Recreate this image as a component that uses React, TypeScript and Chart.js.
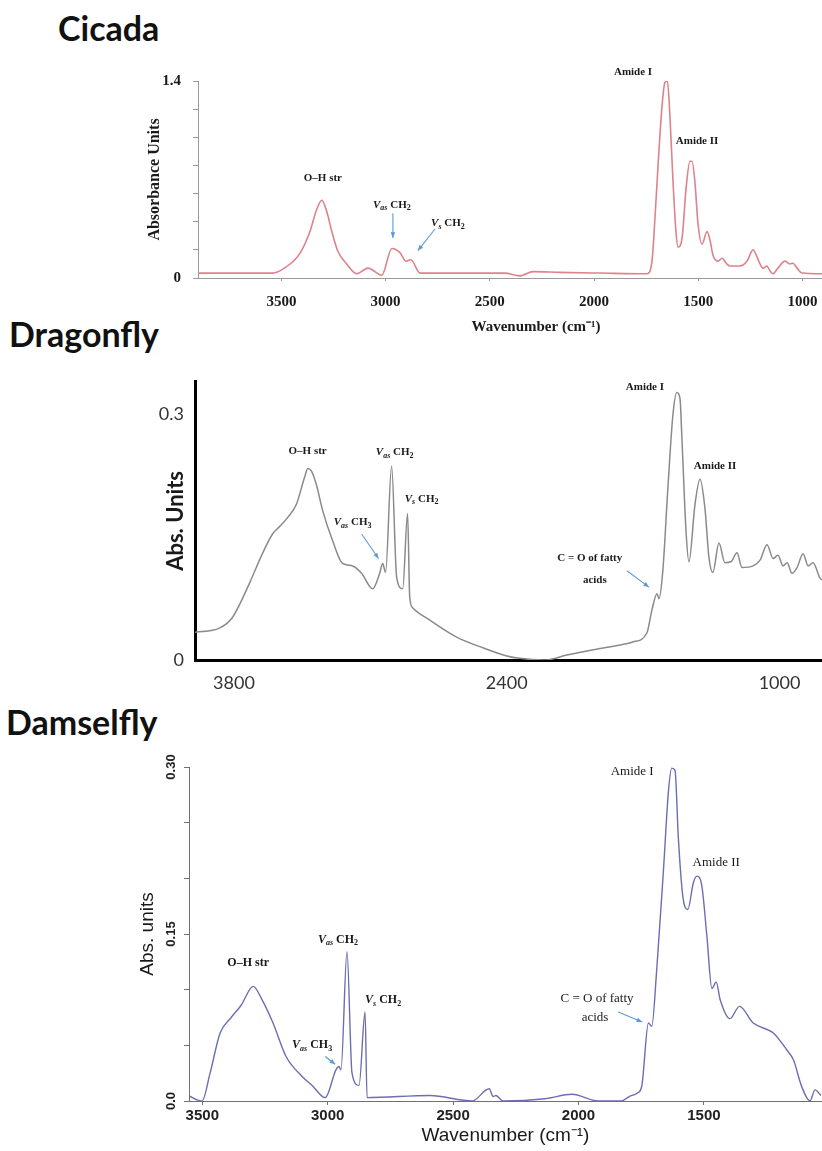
import React, { useEffect, useRef } from 'react';
import { Chart, registerables } from 'chart.js';

Chart.register(...registerables);

// ---------------- Cicada ----------------
const CICADA_WAVENUMBER = [3901, 3541, 3493, 3411, 3363, 3330, 3306, 3282, 3258, 3229, 3186, 3138, 3085, 3018, 2970, 2931, 2903, 2879, 2835, 2428, 2356, 2293, 2164, 1972, 1746, 1722, 1708, 1693, 1674, 1660, 1648, 1636, 1621, 1607, 1597, 1578, 1559, 1540, 1530, 1516, 1501, 1482, 1458, 1444, 1429, 1405, 1386, 1362, 1348, 1300, 1266, 1237, 1218, 1204, 1190, 1170, 1161, 1142, 1118, 1084, 1060, 1046, 1026, 1002, 916, 906];
const CICADA_ABSORBANCE = [0.035, 0.035, 0.063, 0.175, 0.33, 0.49, 0.553, 0.47, 0.33, 0.19, 0.098, 0.03, 0.07, 0.02, 0.21, 0.18, 0.12, 0.13, 0.035, 0.035, 0.015, 0.045, 0.04, 0.035, 0.03, 0.12, 0.42, 0.8, 1.22, 1.39, 1.4, 1.15, 0.68, 0.33, 0.22, 0.28, 0.63, 0.83, 0.83, 0.68, 0.38, 0.24, 0.33, 0.27, 0.16, 0.12, 0.14, 0.098, 0.085, 0.085, 0.12, 0.2, 0.15, 0.1, 0.07, 0.085, 0.063, 0.03, 0.07, 0.12, 0.1, 0.105, 0.07, 0.035, 0.03, 0.03];
const CICADA_X_TICKS = [3500, 3000, 2500, 2000, 1500, 1000];
const CICADA_X_LABELS = ['3500', '3000', '2500', '2000', '1500', '1000'];
const CICADA_Y_TICKS = [0, 0.2, 0.4, 0.6, 0.8, 1.0, 1.2, 1.4];
const CICADA_Y_LABELS = ['0', '', '', '', '', '', '', '1.4'];

// ---------------- Dragonfly ----------------
const DRAGONFLY_WAVENUMBER = [4000, 3875, 3808, 3720, 3654, 3602, 3566, 3525, 3480, 3438, 3421, 3403, 3378, 3344, 3294, 3243, 3191, 3145, 3088, 3052, 3037, 3022, 2991, 2965, 2934, 2909, 2898, 2883, 2796, 2657, 2523, 2400, 2333, 2205, 2092, 1922, 1753, 1681, 1655, 1629, 1619, 1599, 1573, 1547, 1527, 1511, 1501, 1480, 1465, 1434, 1408, 1383, 1362, 1342, 1311, 1280, 1250, 1218, 1193, 1136, 1100, 1064, 1033, 1008, 982, 961, 936, 910, 879, 853, 828, 792, 782];
const DRAGONFLY_ABSORBANCE = [0.034, 0.039, 0.052, 0.094, 0.13, 0.154, 0.163, 0.174, 0.19, 0.223, 0.234, 0.231, 0.215, 0.182, 0.146, 0.118, 0.115, 0.106, 0.087, 0.106, 0.118, 0.107, 0.237, 0.101, 0.087, 0.179, 0.077, 0.064, 0.049, 0.028, 0.015, 0.005, 0.002, 0.0, 0.006, 0.014, 0.022, 0.033, 0.061, 0.081, 0.075, 0.109, 0.21, 0.3, 0.327, 0.32, 0.271, 0.158, 0.12, 0.19, 0.221, 0.186, 0.125, 0.107, 0.143, 0.119, 0.12, 0.131, 0.113, 0.115, 0.122, 0.141, 0.124, 0.128, 0.115, 0.119, 0.106, 0.113, 0.13, 0.115, 0.119, 0.1, 0.098];
const DRAGONFLY_X_TICKS = [3800, 2400, 1000];
const DRAGONFLY_X_LABELS = ['3800', '2400', '1000'];
const DRAGONFLY_Y_TICKS = [0, 0.3];
const DRAGONFLY_Y_LABELS = ['0', '0.3'];

// ---------------- Damselfly ----------------
const DAMSELFLY_WAVENUMBER = [3553, 3501, 3469, 3429, 3385, 3345, 3297, 3262, 3218, 3166, 3102, 3062, 3010, 2967, 2955, 2947, 2923, 2903, 2875, 2851, 2843, 2592, 2424, 2356, 2340, 2329, 2301, 2133, 2026, 1922, 1830, 1798, 1766, 1748, 1721, 1708, 1688, 1661, 1641, 1628, 1615, 1602, 1584, 1564, 1542, 1528, 1508, 1488, 1468, 1451, 1435, 1396, 1358, 1303, 1223, 1170, 1143, 1110, 1077, 1057, 1033];
const DAMSELFLY_ABSORBANCE = [0.0045, 0, 0.025, 0.061, 0.075, 0.086, 0.103, 0.091, 0.07, 0.04, 0.022, 0.014, 0.003, 0.028, 0.031, 0.028, 0.134, 0.025, 0.014, 0.08, 0.003, 0.005, 0, 0.011, 0.004, 0.005, 0, 0.002, 0.006, 0, 0, 0.004, 0.007, 0.013, 0.07, 0.067, 0.118, 0.208, 0.279, 0.299, 0.297, 0.237, 0.184, 0.172, 0.196, 0.202, 0.193, 0.148, 0.101, 0.107, 0.091, 0.074, 0.085, 0.07, 0.061, 0.046, 0.037, 0.013, 0, 0.01, 0.005];
const DAMSELFLY_X_TICKS = [3500, 3000, 2500, 2000, 1500];
const DAMSELFLY_X_LABELS = ['3500', '3000', '2500', '2000', '1500'];
const DAMSELFLY_Y_TICKS = [0, 0.05, 0.1, 0.15, 0.2, 0.25, 0.3];
const DAMSELFLY_Y_LABELS = ['0.0', '', '', '0.15', '', '', '0.30'];

// ---------------- Peak annotations (data coordinates) ----------------
type Seg = { t: string; sub?: boolean; it?: boolean };
type Note = { segs: Seg[]; wn: number; ab: number; light?: boolean };
type Arrow = { from: [number, number]; to: [number, number] };

const plain = (t: string): Seg[] => [{ t }];
const vib = (mode: string, n: string): Seg[] => [
  { t: 'V', it: true },
  { t: mode, sub: true, it: true },
  { t: ' CH' },
  { t: n, sub: true },
];

const CICADA_NOTES: Note[] = [
  { segs: plain('O–H str'), wn: 3301, ab: 0.71 },
  { segs: vib('as', '2'), wn: 2970, ab: 0.52 },
  { segs: vib('s', '2'), wn: 2701, ab: 0.39 },
  { segs: plain('Amide I'), wn: 1813, ab: 1.46 },
  { segs: plain('Amide II'), wn: 1506, ab: 0.975 },
];
const CICADA_ARROWS: Arrow[] = [
  { from: [2965, 0.46], to: [2965, 0.285] },
  { from: [2763, 0.348], to: [2845, 0.195] },
];

const DRAGONFLY_NOTES: Note[] = [
  { segs: plain('O–H str'), wn: 3422, ab: 0.255 },
  { segs: vib('as', '2'), wn: 2975, ab: 0.254 },
  { segs: vib('s', '2'), wn: 2837, ab: 0.197 },
  { segs: vib('as', '3'), wn: 3191, ab: 0.168 },
  { segs: plain('Amide I'), wn: 1691, ab: 0.334 },
  { segs: plain('Amide II'), wn: 1331, ab: 0.237 },
  { segs: plain('C = O of fatty'), wn: 1974, ab: 0.124 },
  { segs: plain('acids'), wn: 1948, ab: 0.098 },
];
const DRAGONFLY_ARROWS: Arrow[] = [
  { from: [3145, 0.154], to: [3058, 0.124] },
  { from: [1783, 0.109], to: [1670, 0.089] },
];

const DAMSELFLY_NOTES: Note[] = [
  { segs: plain('O–H str'), wn: 3317, ab: 0.124 },
  { segs: vib('as', '2'), wn: 2959, ab: 0.145 },
  { segs: vib('s', '2'), wn: 2779, ab: 0.091 },
  { segs: vib('as', '3'), wn: 3062, ab: 0.05 },
  { segs: plain('Amide I'), wn: 1786, ab: 0.296, light: true },
  { segs: plain('Amide II'), wn: 1451, ab: 0.214, light: true },
  { segs: plain('C = O of fatty'), wn: 1926, ab: 0.092, light: true },
  { segs: plain('acids'), wn: 1934, ab: 0.075, light: true },
];
const DAMSELFLY_ARROWS: Arrow[] = [
  { from: [3010, 0.04], to: [2970, 0.033] },
  { from: [1842, 0.08], to: [1746, 0.071] },
];

// ---------------- fonts & helpers ----------------
const SERIF = "'Liberation Serif', 'Times New Roman', serif";
const ARIAL = "'Liberation Sans', Arial, sans-serif";
const CALIBRI = "Lato, 'Noto Sans', sans-serif";

type NoteStyle = { size: number; lightSize: number; color: string; arrowColor: string };

function notesPlugin(notes: Note[], arrows: Arrow[], style: NoteStyle) {
  return {
    id: 'peakNotes',
    afterDraw(chart: any) {
      const { ctx, scales } = chart;
      const xs = scales.x;
      const ys = scales.y;
      ctx.save();
      ctx.strokeStyle = style.arrowColor;
      ctx.fillStyle = style.arrowColor;
      ctx.lineWidth = 1.1;
      for (const a of arrows) {
        const x1 = xs.getPixelForValue(a.from[0]);
        const y1 = ys.getPixelForValue(a.from[1]);
        const x2 = xs.getPixelForValue(a.to[0]);
        const y2 = ys.getPixelForValue(a.to[1]);
        ctx.beginPath();
        ctx.moveTo(x1, y1);
        ctx.lineTo(x2, y2);
        ctx.stroke();
        const ang = Math.atan2(y2 - y1, x2 - x1);
        const h = 6;
        ctx.beginPath();
        ctx.moveTo(x2, y2);
        ctx.lineTo(x2 - h * Math.cos(ang - 0.4), y2 - h * Math.sin(ang - 0.4));
        ctx.lineTo(x2 - h * Math.cos(ang + 0.4), y2 - h * Math.sin(ang + 0.4));
        ctx.closePath();
        ctx.fill();
      }
      ctx.fillStyle = style.color;
      ctx.textBaseline = 'middle';
      ctx.textAlign = 'left';
      for (const n of notes) {
        const size = n.light ? style.lightSize : style.size;
        const weight = n.light ? 'normal' : 'bold';
        const fontFor = (s: Seg) =>
          `${s.it ? 'italic ' : ''}${weight} ${s.sub ? Math.round(size * 0.7) : size}px ${SERIF}`;
        const widths = n.segs.map((s) => {
          ctx.font = fontFor(s);
          return ctx.measureText(s.t).width;
        });
        const total = widths.reduce((p, c) => p + c, 0);
        let x = xs.getPixelForValue(n.wn) - total / 2;
        const y = ys.getPixelForValue(n.ab);
        n.segs.forEach((s, i) => {
          ctx.font = fontFor(s);
          ctx.fillText(s.t, x, y + (s.sub ? size * 0.32 : 0));
          x += widths[i];
        });
      }
      ctx.restore();
    },
  };
}

const fixedTicks = (values: number[]) => (scale: any) => {
  scale.ticks = values.map((v) => ({ value: v }));
};
const labelsFrom = (labels: string[]) => (_v: any, i: number) => labels[i];
const points = (xs: number[], ys: number[]) => xs.map((x, i) => ({ x, y: ys[i] }));

// ---------------- configs ----------------
function cicadaConfig(): any {
  const tickFont = { family: SERIF, size: 15, weight: 'bold' };
  return {
    type: 'line',
    data: {
      datasets: [
        {
          data: points(CICADA_WAVENUMBER, CICADA_ABSORBANCE),
          borderColor: '#de828b',
          borderWidth: 1.6,
          pointRadius: 0,
          fill: false,
          cubicInterpolationMode: 'monotone',
        },
      ],
    },
    plugins: [notesPlugin(CICADA_NOTES, CICADA_ARROWS, { size: 11, lightSize: 11, color: '#1a1a1a', arrowColor: '#5b9bd5' })],
    options: {
      responsive: false,
      animation: false,
      events: [],
      layout: { padding: { top: 17, right: 0, bottom: 0, left: 0 } },
      plugins: { legend: { display: false }, tooltip: { enabled: false } },
      scales: {
        x: {
          type: 'linear',
          reverse: true,
          min: 657,
          max: 3900,
          afterBuildTicks: fixedTicks(CICADA_X_TICKS),
          afterFit: (s: any) => { s.height = 67; },
          ticks: { callback: labelsFrom(CICADA_X_LABELS), autoSkip: false, maxRotation: 0, padding: 12, color: '#1a1a1a', font: tickFont },
          grid: { drawOnChartArea: false, drawTicks: true, tickLength: 3, color: '#9a9a9a' },
          border: { display: true, color: '#9a9a9a', width: 1 },
          title: { display: true, text: 'Wavenumber (cm⁻¹)', color: '#1a1a1a', font: { family: SERIF, size: 15, weight: 'bold' }, padding: { top: 0, bottom: 9 } },
        },
        y: {
          type: 'linear',
          min: 0,
          max: 1.4,
          afterBuildTicks: fixedTicks(CICADA_Y_TICKS),
          afterFit: (s: any) => { s.width = 68; },
          ticks: { callback: labelsFrom(CICADA_Y_LABELS), autoSkip: false, padding: 12, color: '#1a1a1a', font: tickFont },
          grid: { drawOnChartArea: false, drawTicks: true, tickLength: 5, color: '#9a9a9a' },
          border: { display: true, color: '#9a9a9a', width: 1 },
          title: { display: true, text: 'Absorbance Units', color: '#1a1a1a', font: { family: SERIF, size: 16, weight: 'bold' }, padding: { top: 15, bottom: 0 } },
        },
      },
    },
  };
}

function dragonflyConfig(): any {
  const tickFont = { family: CALIBRI, size: 18, weight: 'normal' };
  return {
    type: 'line',
    data: {
      datasets: [
        {
          data: points(DRAGONFLY_WAVENUMBER, DRAGONFLY_ABSORBANCE),
          borderColor: '#8a8a8a',
          borderWidth: 1.5,
          pointRadius: 0,
          fill: false,
          cubicInterpolationMode: 'monotone',
        },
      ],
    },
    plugins: [notesPlugin(DRAGONFLY_NOTES, DRAGONFLY_ARROWS, { size: 11, lightSize: 11, color: '#1a1a1a', arrowColor: '#5b9bd5' })],
    options: {
      responsive: false,
      animation: false,
      events: [],
      layout: { padding: { top: 20, right: 0, bottom: 0, left: 0 } },
      plugins: { legend: { display: false }, tooltip: { enabled: false } },
      scales: {
        x: {
          type: 'linear',
          reverse: true,
          min: 782,
          max: 4000,
          afterBuildTicks: fixedTicks(DRAGONFLY_X_TICKS),
          afterFit: (s: any) => { s.height = 30; },
          ticks: { callback: labelsFrom(DRAGONFLY_X_LABELS), autoSkip: false, maxRotation: 0, padding: 12, color: '#333', font: tickFont },
          grid: { drawOnChartArea: false, drawTicks: false },
          border: { display: true, color: '#000', width: 3 },
        },
        y: {
          type: 'linear',
          min: 0,
          max: 0.34,
          afterBuildTicks: fixedTicks(DRAGONFLY_Y_TICKS),
          afterFit: (s: any) => { s.width = 55; },
          ticks: { callback: labelsFrom(DRAGONFLY_Y_LABELS), autoSkip: false, padding: 11, color: '#333', font: tickFont },
          grid: { drawOnChartArea: false, drawTicks: false },
          border: { display: true, color: '#000', width: 3 },
          title: { display: true, text: 'Abs. Units', color: '#1a1a1a', font: { family: CALIBRI, size: 22, weight: 'bold' }, padding: { top: 23, bottom: 0 } },
        },
      },
    },
  };
}

function damselflyConfig(): any {
  return {
    type: 'line',
    data: {
      datasets: [
        {
          data: points(DAMSELFLY_WAVENUMBER, DAMSELFLY_ABSORBANCE),
          borderColor: '#6d6db2',
          borderWidth: 1.4,
          pointRadius: 0,
          fill: false,
          cubicInterpolationMode: 'monotone',
        },
      ],
    },
    plugins: [notesPlugin(DAMSELFLY_NOTES, DAMSELFLY_ARROWS, { size: 12, lightSize: 13, color: '#1a1a1a', arrowColor: '#5b9bd5' })],
    options: {
      responsive: false,
      animation: false,
      events: [],
      layout: { padding: { top: 27, right: 0, bottom: 0, left: 0 } },
      plugins: { legend: { display: false }, tooltip: { enabled: false } },
      scales: {
        x: {
          type: 'linear',
          reverse: true,
          min: 1029,
          max: 3553,
          afterBuildTicks: fixedTicks(DAMSELFLY_X_TICKS),
          afterFit: (s: any) => { s.height = 50; },
          ticks: { callback: labelsFrom(DAMSELFLY_X_LABELS), autoSkip: false, maxRotation: 0, padding: 2, color: '#222', font: { family: ARIAL, size: 15, weight: 'bold' } },
          grid: { drawOnChartArea: false, drawTicks: true, tickLength: 4, color: '#707070' },
          border: { display: true, color: '#707070', width: 1 },
          title: { display: true, text: 'Wavenumber (cm⁻¹)', color: '#1a1a1a', font: { family: ARIAL, size: 19, weight: 'normal' }, padding: { top: 0, bottom: 4 } },
        },
        y: {
          type: 'linear',
          min: 0,
          max: 0.3,
          afterBuildTicks: fixedTicks(DAMSELFLY_Y_TICKS),
          afterFit: (s: any) => { s.width = 69; },
          ticks: { callback: labelsFrom(DAMSELFLY_Y_LABELS), autoSkip: false, minRotation: 90, maxRotation: 90, crossAlign: 'center', padding: 0, color: '#222', font: { family: ARIAL, size: 13, weight: 'bold' } },
          grid: { drawOnChartArea: false, drawTicks: true, tickLength: 5, color: '#707070' },
          border: { display: true, color: '#707070', width: 1 },
          title: { display: true, text: 'Abs. units', color: '#1a1a1a', font: { family: ARIAL, size: 19, weight: 'normal' }, padding: { top: 16, bottom: 0 } },
        },
      },
    },
  };
}

// ---------------- components ----------------
type Box = { left: number; top: number; width: number; height: number };

function ChartPanel({ box, build }: { box: Box; build: () => any }) {
  const ref = useRef<HTMLCanvasElement>(null);
  useEffect(() => {
    if (!ref.current) return;
    const chart = new Chart(ref.current, build());
    return () => chart.destroy();
  }, []);
  return (
    <canvas
      ref={ref}
      width={box.width}
      height={box.height}
      style={{ position: 'absolute', left: box.left, top: box.top, width: box.width, height: box.height }}
    />
  );
}

const panelTitle = (left: number, top: number): React.CSSProperties => ({
  position: 'absolute',
  left,
  top,
  margin: 0,
  fontFamily: CALIBRI,
  fontWeight: 700,
  fontSize: 34,
  lineHeight: '34px',
  color: '#111',
  whiteSpace: 'nowrap',
});

export default function App() {
  return (
    <div
      style={{
        position: 'absolute',
        left: 0,
        top: 0,
        width: 822,
        height: 1151,
        overflow: 'hidden',
        background: '#ffffff',
      }}
    >
      <div style={panelTitle(58, 11)}>Cicada</div>
      <div style={panelTitle(9, 317)}>Dragonfly</div>
      <div style={panelTitle(6, 705)}>Damselfly</div>
      <ChartPanel box={{ left: 130, top: 60, width: 744, height: 285 }} build={cicadaConfig} />
      <ChartPanel box={{ left: 140, top: 360, width: 682, height: 330 }} build={dragonflyConfig} />
      <ChartPanel box={{ left: 120, top: 740, width: 702, height: 411 }} build={damselflyConfig} />
    </div>
  );
}
